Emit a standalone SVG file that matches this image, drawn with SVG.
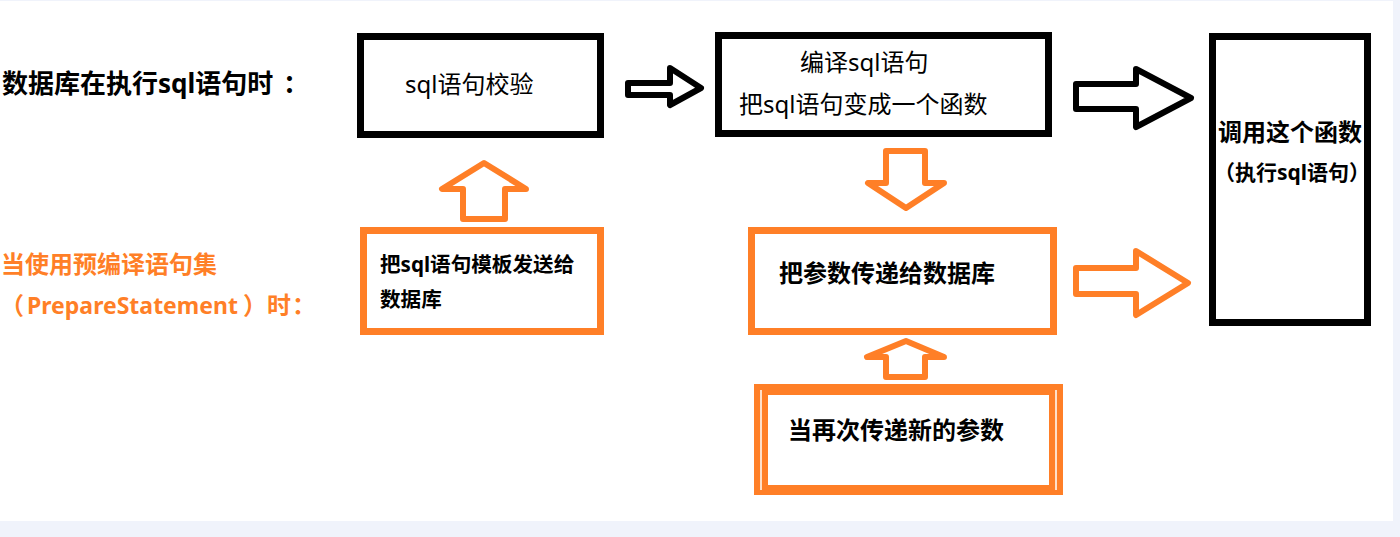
<svg xmlns="http://www.w3.org/2000/svg" width="1400" height="537" viewBox="0 0 1400 537">
  <style>
    .t { font-family: "Noto Sans", "Noto Sans CJK SC", sans-serif; fill: #000; }
    .b { font-weight: bold; }
    .o { fill: #FF7F27; }
    .bk { fill: none; stroke: #000; stroke-width: 7; }
    .ob { fill: none; stroke: #FF7F27; stroke-width: 7; }
    .ba { fill: #fff; stroke: #000; stroke-width: 6; stroke-linejoin: round; }
    .oa { fill: #fff; stroke: #FF7F27; stroke-width: 6; stroke-linejoin: round; }
  </style>
  <rect x="0" y="0" width="1400" height="537" fill="#F0F3FB"/>
  <rect x="0" y="1" width="1393" height="520" fill="#FFFFFF"/>

  <g id="label-db">
    <text class="t b" x="2" y="93" font-size="26">数据库在执行sql语句时<tspan x="283">：</tspan></text>
  </g>
  <g id="label-ps">
    <text class="t b o" x="1" y="273" font-size="24">当使用预编译语句集</text>
    <text class="t b o" x="0" y="314" font-size="24">（<tspan x="27" font-size="23">PrepareStatement</tspan><tspan x="243">）时</tspan><tspan x="292">：</tspan></text>
  </g>

  <g id="node-check">
    <rect class="bk" x="360.5" y="36.5" width="240" height="98"/>
    <text class="t" x="405" y="93" font-size="24">sql语句校验</text>
  </g>
  <g id="node-compile">
    <rect class="bk" x="718.5" y="35.5" width="330" height="98"/>
    <text class="t" x="800" y="71" font-size="24">编译sql语句</text>
    <text class="t" x="739" y="113" font-size="24">把sql语句变成一个函数</text>
  </g>
  <g id="node-call">
    <rect class="bk" x="1212.5" y="36.5" width="155" height="286"/>
    <text class="t b" x="1290" y="141" font-size="24" text-anchor="middle">调用这个函数</text>
    <text class="t b" x="1292" y="180" font-size="21" text-anchor="middle">（执行sql语句）</text>
  </g>
  <g id="node-template">
    <rect class="ob" x="363.5" y="230.5" width="237" height="101"/>
    <text class="t b" x="380" y="272" font-size="20.6">把sql语句模板发送给</text>
    <text class="t b" x="380" y="307" font-size="20.6">数据库</text>
  </g>
  <g id="node-params">
    <rect class="ob" x="751.5" y="230.5" width="302" height="101"/>
    <text class="t b" x="779" y="282" font-size="24">把参数传递给数据库</text>
  </g>
  <g id="node-newparams">
    <rect x="754" y="384" width="309" height="111" fill="#FF7F27"/>
    <rect x="768" y="395" width="281" height="90" fill="#FFFFFF"/>
    <line x1="761" y1="390" x2="761" y2="490" stroke="#FFFFFF" stroke-width="1.5"/>
    <line x1="1056" y1="390" x2="1056" y2="490" stroke="#FFFFFF" stroke-width="1.5"/>
    <text class="t b" x="788" y="439" font-size="24">当再次传递新的参数</text>
  </g>

  <g id="connectors">
    <polygon class="ba" points="628,83 670,83 670,68 701,88 670,105 670,95 628,95"/>
    <polygon class="ba" points="1076,84 1136,84 1136,69 1191,98 1136,127 1136,109 1076,109"/>
    <polygon class="oa" points="1076,268 1136,268 1136,251 1188,283 1136,315 1136,294 1076,294"/>
    <polygon class="oa" points="484,163 442,189 463,189 463,219 505,219 505,189 526,189"/>
    <polygon class="oa" points="886,151 925,151 925,183 944,183 906,208 868,183 886,183"/>
    <polygon class="oa" points="906,341 867,357 886,357 886,377 925,377 925,357 944,357"/>
  </g>
</svg>
